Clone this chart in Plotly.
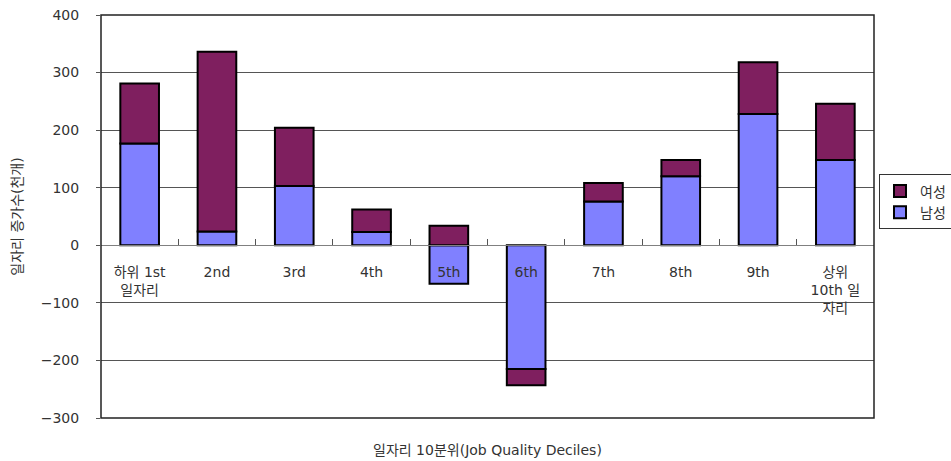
import plotly.graph_objects as go

categories = ["하위 1st<br>일자리", "2nd", "3rd", "4th", "5th", "6th", "7th", "8th", "9th", "상위<br>10th 일<br>자리"]
men = [177, 24, 103, 23, -67, -215, 76, 120, 228, 148]
women = [104, 312, 101, 39, 34, -28, 32, 28, 90, 98]
y_ticks = [-300, -200, -100, 0, 100, 200, 300, 400]

FONT = "DejaVu Sans, Noto Sans CJK KR"
C_MEN = "#8080FF"
C_WOMEN = "#7F1F5F"

fig = go.Figure()
fig.add_trace(go.Bar(x=categories, y=men, name="남성",
                     marker=dict(color=C_MEN, line=dict(color="black", width=2))))
fig.add_trace(go.Bar(x=categories, y=women, name="여성",
                     marker=dict(color=C_WOMEN, line=dict(color="black", width=2))))

ymin, ymax = -300, 400
zero_frac = (0 - ymin) / (ymax - ymin)

fig.update_layout(
    width=951, height=461,
    margin=dict(l=101, r=77, t=15, b=43, autoexpand=False),
    barmode="relative", bargap=0.5,
    plot_bgcolor="white", paper_bgcolor="white",
    font=dict(family=FONT, size=14, color="#222"),
    xaxis=dict(anchor="free", position=zero_frac, showline=True, linecolor="#808080", linewidth=1,
               ticks="inside", tickson="boundaries", ticklen=6, tickcolor="#555",
               ticklabelstandoff=14, showgrid=False, tickfont=dict(size=14, color="#333"),
               automargin=False),
    yaxis=dict(range=[ymin, ymax], tickvals=y_ticks, showgrid=True, gridcolor="#555", gridwidth=1,
               zeroline=False, showline=False, ticks="outside", ticklen=4, tickcolor="#555",
               ticklabelstandoff=14, tickfont=dict(size=14, color="#333"), automargin=False,
               title=dict(text="일자리 증가수(천개)", font=dict(size=14, color="#333"), standoff=14)),
    legend=dict(x=(879 - 101) / 773, y=0.536, xanchor="left", yanchor="middle",
                traceorder="reversed", bordercolor="#333", borderwidth=1,
                font=dict(size=14, color="#333"), itemwidth=30, tracegroupgap=2),
    showlegend=True,
)
fig.add_shape(type="rect", xref="paper", yref="paper", x0=0, x1=1, y0=0, y1=1,
              line=dict(color="#222", width=1.5), layer="above")
fig.add_annotation(text="일자리 10분위(Job Quality Deciles)", xref="paper", yref="paper",
                   x=0.5, y=0, yshift=-32, showarrow=False, yanchor="middle",
                   font=dict(size=14, color="#333"))
fig.write_html("out.html")
